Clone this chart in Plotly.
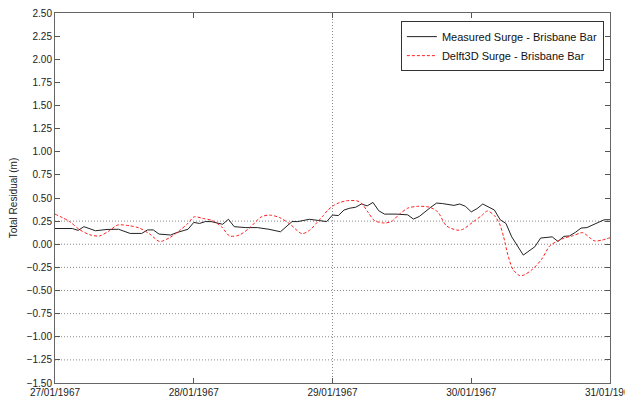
import pandas as pd
import plotly.graph_objects as go

start = pd.Timestamp("1967-01-27")

measured_hours = [0, 2, 3, 4, 5, 7, 9, 11, 12, 13, 15, 16, 17, 18, 20, 21, 23, 24, 25, 26,
                  27, 29, 30, 31, 33, 35, 37, 39, 41, 42, 44, 46, 47, 48, 49, 50, 51, 52, 53, 54,
                  55, 56, 57, 59, 61, 62, 63, 65, 66, 67, 69, 70, 71, 72, 73, 74, 75, 76, 77, 78,
                  79, 81, 83, 84, 86, 87, 88, 89, 90, 91, 92, 93, 94, 95, 96]
measured_values = [0.17, 0.17, 0.17, 0.15, 0.19, 0.146, 0.16, 0.162, 0.135, 0.117, 0.117, 0.155, 0.155, 0.11, 0.10, 0.125, 0.162, 0.236, 0.225, 0.245,
                   0.245, 0.216, 0.27, 0.19, 0.18, 0.18, 0.162, 0.135, 0.245, 0.245, 0.27, 0.252, 0.245, 0.316, 0.31, 0.37, 0.39, 0.40, 0.435, 0.415,
                   0.452, 0.362, 0.326, 0.326, 0.318, 0.272, 0.30, 0.40, 0.445, 0.44, 0.42, 0.435, 0.41, 0.35, 0.385, 0.435, 0.40, 0.37, 0.265, 0.225,
                   0.08, -0.117, -0.027, 0.067, 0.08, 0.03, 0.085, 0.09, 0.128, 0.175, 0.18, 0.21, 0.236, 0.265, 0.265]

model_hours = [0, 2.5, 4.2, 6, 7.7, 9.4, 10.8, 12.9, 14.6, 16.4, 18.1, 19.8, 21.5, 22.9, 24.1, 25.5,
               27.3, 28.8, 30.2, 31.9, 33.7, 35.7, 37.1, 38.8, 40.6, 42.7, 44, 45.4, 46.4, 47.2, 48.2, 49.2,
               50.4, 52.2, 53, 54.1, 55.3, 57, 58.2, 59.6, 61, 62.7, 64.8, 66.2, 67.7, 69.5, 70.5, 72.2,
               73.8, 74.8, 76, 76.9, 77.6, 78.3, 79.2, 80.4, 81.2, 82.6, 84.2, 85.6, 86.8, 88.2, 89.5,
               91.3, 92.5, 93.4, 94.6, 96]
model_values = [0.326, 0.246, 0.16, 0.103, 0.09, 0.146, 0.207, 0.20, 0.175, 0.11, 0.03, 0.07, 0.146, 0.22, 0.297, 0.28,
                0.254, 0.19, 0.09, 0.10, 0.18, 0.297, 0.315, 0.29, 0.22, 0.115, 0.15, 0.24, 0.31, 0.37, 0.42, 0.45,
                0.47, 0.47, 0.445, 0.35, 0.254, 0.23, 0.246, 0.326, 0.39, 0.41, 0.40, 0.35, 0.20, 0.153, 0.16, 0.236,
                0.31, 0.36, 0.31, 0.22, 0.08, -0.106, -0.27, -0.34, -0.33, -0.27, -0.16, -0.016, 0.03, 0.07, 0.09,
                0.125, 0.07, 0.035, 0.045, 0.07]

grid_levels = [0.25, 0.0, -0.25, -0.5, -0.75, -1.0, -1.25]
marker_day = "1967-01-29"
day_ticks = ["1967-01-27", "1967-01-28", "1967-01-29", "1967-01-30", "1967-01-31"]
y_ticks = [-1.5, -1.25, -1.0, -0.75, -0.5, -0.25, 0.0, 0.25, 0.5, 0.75, 1.0, 1.25, 1.5, 1.75, 2.0, 2.25, 2.5]
y_range = [-1.5, 2.5]

mx = [start + pd.Timedelta(hours=h) for h in measured_hours]
dx = [start + pd.Timedelta(hours=h) for h in model_hours]

fig = go.Figure()
fig.add_trace(go.Scatter(x=mx, y=measured_values, mode="lines",
                         name="Measured Surge - Brisbane Bar",
                         line=dict(color="#222222", width=1)))
fig.add_trace(go.Scatter(x=dx, y=model_values, mode="lines",
                         name="Delft3D Surge - Brisbane Bar",
                         line=dict(color="#ff2020", width=1, dash="3px,2px", shape="spline", smoothing=0.8)))

for g in grid_levels:
    fig.add_shape(type="line", xref="paper", x0=0, x1=1, yref="y", y0=g, y1=g,
                  line=dict(color="#8a8a8a", width=1, dash="1px,2px"), layer="below")
fig.add_shape(type="line", xref="x", x0=marker_day, x1=marker_day, yref="paper", y0=0, y1=1,
              line=dict(color="#8a8a8a", width=1, dash="1px,2px"), layer="below")

fam = "Liberation Sans, Arial, sans-serif"
yfont = dict(family=fam, size=10, color="#222222")
xfont = dict(family=fam, size=10, color="#222222")
fig.update_layout(
    width=625, height=393,
    margin=dict(l=47, r=23, t=5, b=18, autoexpand=False),
    paper_bgcolor="white", plot_bgcolor="white",
    font=yfont,
    showlegend=True,
    legend=dict(x=0.989, y=0.978, xanchor="right", yanchor="top",
                bordercolor="#333333", borderwidth=1, bgcolor="white",
                font=dict(family=fam, size=11, color="#111111"),
                tracegroupgap=0, itemwidth=30),
    xaxis=dict(range=[day_ticks[0], day_ticks[-1]], tickvals=day_ticks, tickformat="%d/%m/%Y",
               ticks="inside", ticklen=5, tickcolor="#555555", showline=True, linecolor="#666666",
               linewidth=1, mirror="ticks", showgrid=False, zeroline=False, automargin=False,
               ticklabeloverflow="allow", tickfont=xfont),
    yaxis=dict(range=y_range, tickvals=y_ticks, tickformat=".2f",
               ticks="inside", ticklen=5, tickcolor="#555555", showline=True, linecolor="#666666",
               linewidth=1, mirror="ticks", showgrid=False, zeroline=False, automargin=False,
               ticklabeloverflow="allow",
               title=dict(text="Total Residual (m)", font=yfont, standoff=8),
               tickfont=yfont),
)

fig.write_html("out.html")
